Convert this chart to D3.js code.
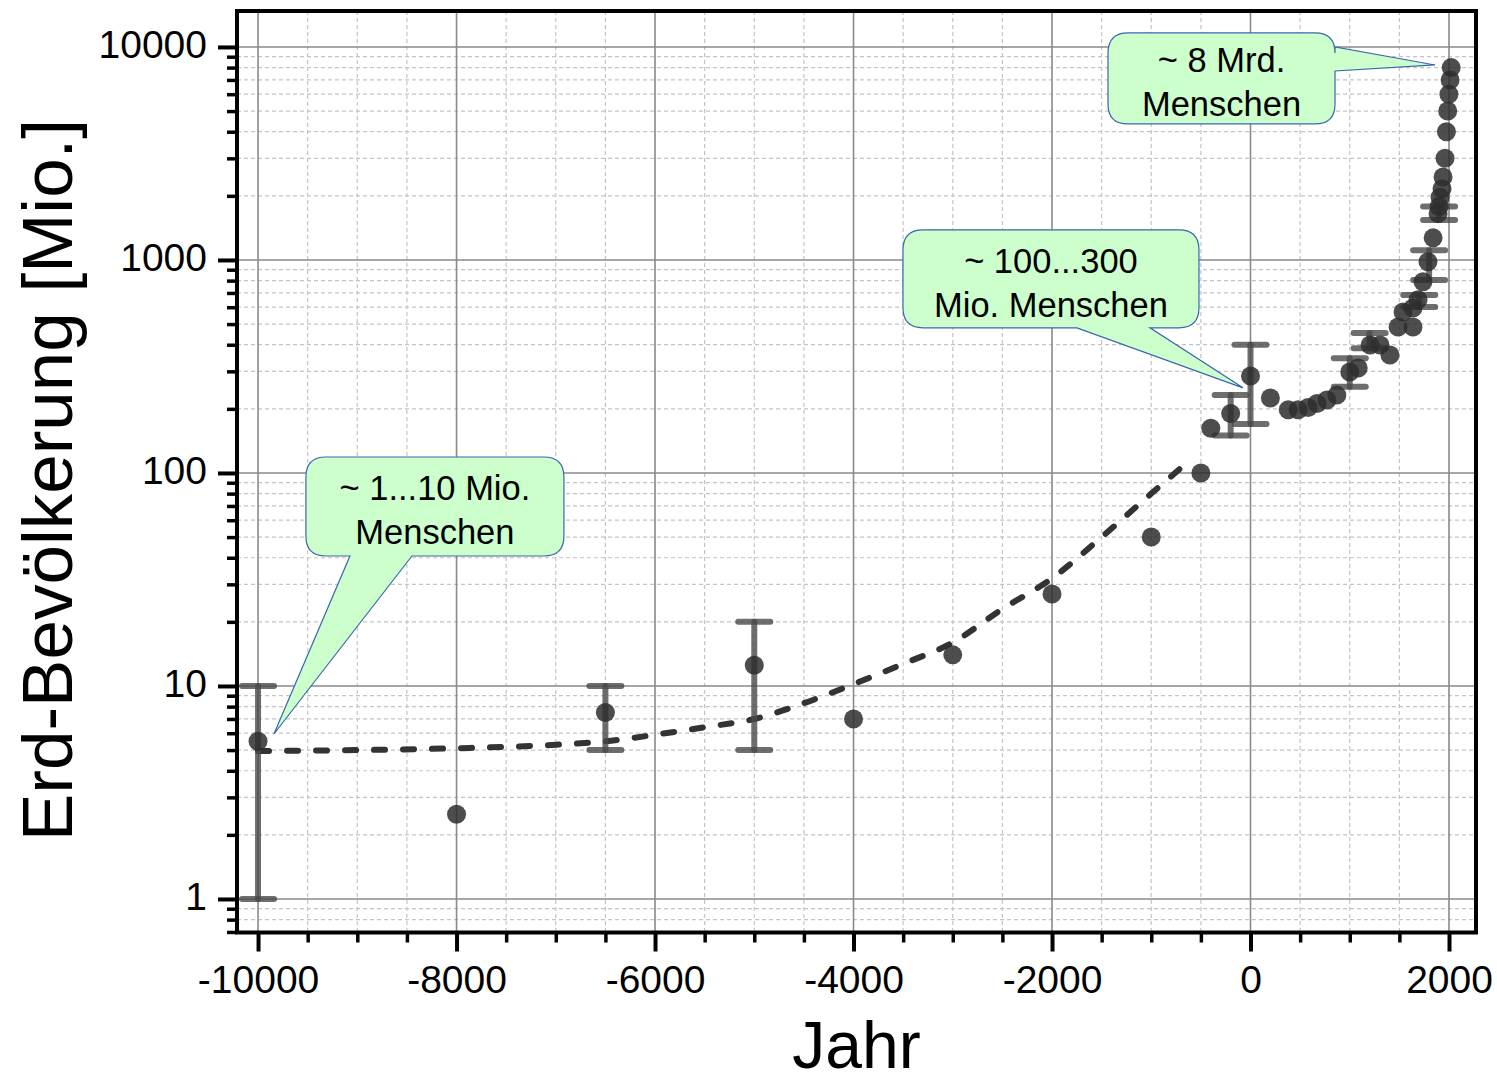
<!DOCTYPE html>
<html>
<head>
<meta charset="utf-8">
<script src="https://cdn.jsdelivr.net/npm/d3@7"></script>
<style>
  body { margin: 0; background: #fff; }
  text { font-family: "Liberation Sans", Arial, sans-serif; fill: #000; }
</style>
</head>
<body>
<div id="chart"></div>
<script>
// data (year, population in millions)
const years = [
  -10000, -8000, -6500, -5000, -4000, -3000, -2000, -1000, -500, -400, -200, 0,
  200, 380, 480, 580, 670, 770, 870, 1000, 1085, 1205, 1305, 1405, 1487, 1637,
  1537, 1637, 1688, 1738, 1788, 1840, 1890, 1900, 1910, 1930, 1940, 1960, 1974,
  1987, 1999, 2011, 2022
];
const population = [
  5.5, 2.5, 7.5, 12.5, 7, 14, 27, 50, 100, 162, 190, 285,
  225, 198, 198, 203, 212, 220, 232, 298, 311, 399, 399, 358, 484, 484,
  570, 595, 650, 790, 980, 1270, 1650, 1780, 1970, 2160, 2450, 3000, 4000,
  5000, 6000, 7000, 8000
];

// error bars
const errYears = [-10000, -6500, -5000, -200, 0, 1000, 1200, 1700, 1800, 1900];
const errLow = [1, 5, 5, 150, 170, 254, 385, 601, 806, 1540];
const errHigh = [10, 10, 20, 232, 400, 346, 454, 685, 1110, 1780];

// dashed trend curve
const trendYears = [-10000, -9000, -8000, -7000, -6500, -6000, -5500, -5000, -4500, -4000, -3500, -3000, -2500, -2000, -1500, -1000, -600];
const trendValues = [4.95, 5.0, 5.1, 5.3, 5.5, 5.9, 6.4, 7.0, 8.3, 10.2, 12.7, 16, 23, 32, 50, 80, 116];

const xTicks = [-10000, -8000, -6000, -4000, -2000, 0, 2000];
const yTicks = [1, 10, 100, 1000, 10000];

const calloutTexts = [
  ["~ 1...10 Mio.", "Menschen"],
  ["~ 100...300", "Mio. Menschen"],
  ["~ 8 Mrd.", "Menschen"]
];
const calloutYears = [-9840, -76, 1859];
const calloutValues = [5.95, 251, 8230];

// box placement relative to the tip, in pixels
const calloutLayout = [
  { dx: 32, dy: -277, w: 258, h: 99, side: "bottom", a: 44, b: 106 },
  { dx: -340, dy: -158, w: 296, h: 98, side: "bottom", a: 174, b: 247 },
  { dx: -327, dy: -32, w: 227, h: 91, side: "right", a: 14, b: 38 }
];

const width = 1497;
const height = 1082;
const plot = { left: 237, right: 1476, top: 11, bottom: 932.5 };

const x = d3.scaleLinear().domain([-10212, 2272]).range([plot.left, plot.right]);
const y = d3.scaleLog().domain([0.696, 14750]).range([plot.bottom, plot.top]);

const xMinor = d3.range(-10000, 2001, 500).filter((d) => !xTicks.includes(d));
const yMinor = [];
[-1, 0, 1, 2, 3].forEach((k) => {
  for (let m = 2; m <= 9; m++) {
    const v = m * Math.pow(10, k);
    if (v > 0.7 && v < 14750) yMinor.push(+v.toPrecision(3));
  }
});

const svg = d3
  .select("#chart")
  .append("svg")
  .attr("width", width)
  .attr("height", height);

// grid
const grid = svg.append("g");
grid
  .selectAll(".vminor")
  .data(xMinor)
  .join("line")
  .attr("x1", (d) => x(d))
  .attr("x2", (d) => x(d))
  .attr("y1", plot.top)
  .attr("y2", plot.bottom)
  .attr("stroke", "#c4c4c4")
  .attr("stroke-width", 1.2)
  .attr("stroke-dasharray", "4,3");
grid
  .selectAll(".hminor")
  .data(yMinor)
  .join("line")
  .attr("x1", plot.left)
  .attr("x2", plot.right)
  .attr("y1", (d) => y(d))
  .attr("y2", (d) => y(d))
  .attr("stroke", "#c4c4c4")
  .attr("stroke-width", 1.2)
  .attr("stroke-dasharray", "4,3");
grid
  .selectAll(".vmajor")
  .data(xTicks)
  .join("line")
  .attr("x1", (d) => x(d))
  .attr("x2", (d) => x(d))
  .attr("y1", plot.top)
  .attr("y2", plot.bottom)
  .attr("stroke", "#8a8a8a")
  .attr("stroke-width", 1.6);
grid
  .selectAll(".hmajor")
  .data(yTicks)
  .join("line")
  .attr("x1", plot.left)
  .attr("x2", plot.right)
  .attr("y1", (d) => y(d))
  .attr("y2", (d) => y(d))
  .attr("stroke", "#8a8a8a")
  .attr("stroke-width", 1.6);

// trend line
const trend = trendYears.map((t, i) => [t, trendValues[i]]);
svg
  .append("path")
  .datum(trend)
  .attr("fill", "none")
  .attr("stroke", "#333")
  .attr("stroke-width", 6)
  .attr("stroke-linecap", "round")
  .attr("stroke-dasharray", "11,18")
  .attr(
    "d",
    d3
      .line()
      .curve(d3.curveMonotoneX)
      .x((d) => x(d[0]))
      .y((d) => y(d[1]))
  );

// error bars
const errors = errYears.map((t, i) => ({ t, lo: errLow[i], hi: errHigh[i] }));
const eb = svg
  .append("g")
  .attr("stroke", "#4a4a4a")
  .attr("stroke-opacity", 0.8)
  .attr("stroke-width", 6)
  .attr("stroke-linecap", "round");
eb.selectAll(".stem")
  .data(errors)
  .join("line")
  .attr("x1", (d) => x(d.t))
  .attr("x2", (d) => x(d.t))
  .attr("y1", (d) => y(d.lo))
  .attr("y2", (d) => y(d.hi));
eb.selectAll(".cap")
  .data(errors.flatMap((d) => [{ t: d.t, v: d.lo }, { t: d.t, v: d.hi }]))
  .join("line")
  .attr("x1", (d) => x(d.t) - 16)
  .attr("x2", (d) => x(d.t) + 16)
  .attr("y1", (d) => y(d.v))
  .attr("y2", (d) => y(d.v));

// points
svg
  .append("g")
  .selectAll("circle")
  .data(years.map((t, i) => [t, population[i]]))
  .join("circle")
  .attr("cx", (d) => x(d[0]))
  .attr("cy", (d) => y(d[1]))
  .attr("r", 9.5)
  .attr("fill", "#2e2e2e")
  .attr("fill-opacity", 0.85);

// frame
svg
  .append("rect")
  .attr("x", plot.left)
  .attr("y", plot.top)
  .attr("width", plot.right - plot.left)
  .attr("height", plot.bottom - plot.top)
  .attr("fill", "none")
  .attr("stroke", "#000")
  .attr("stroke-width", 4);

// axes
const xAxis = svg
  .append("g")
  .attr("transform", `translate(0,${plot.bottom})`)
  .call(d3.axisBottom(x).tickValues(xTicks).tickSize(19).tickFormat((d) => String(d)));
xAxis.select(".domain").remove();
xAxis.selectAll("line").attr("stroke", "#000").attr("stroke-width", 4);
xAxis
  .selectAll("text")
  .attr("y", 60)
  .attr("dy", 0)
  .attr("font-size", 39)
  .attr("font-family", '"Liberation Sans", Arial, sans-serif');

const xAxisMinor = svg
  .append("g")
  .attr("transform", `translate(0,${plot.bottom})`)
  .call(d3.axisBottom(x).tickValues(xMinor).tickSize(10).tickFormat(""));
xAxisMinor.select(".domain").remove();
xAxisMinor.selectAll("line").attr("stroke", "#000").attr("stroke-width", 3.5);

const yAxis = svg
  .append("g")
  .attr("transform", `translate(${plot.left},0)`)
  .call(d3.axisLeft(y).tickValues(yTicks).tickSize(19).tickFormat((d) => String(d)));
yAxis.select(".domain").remove();
yAxis.selectAll("line").attr("stroke", "#000").attr("stroke-width", 4);
yAxis
  .selectAll("text")
  .attr("x", -30)
  .attr("dy", "0.27em")
  .attr("font-size", 39)
  .attr("font-family", '"Liberation Sans", Arial, sans-serif');

const yAxisMinor = svg
  .append("g")
  .attr("transform", `translate(${plot.left},0)`)
  .call(d3.axisLeft(y).tickValues(yMinor).tickSize(10).tickFormat(""));
yAxisMinor.select(".domain").remove();
yAxisMinor.selectAll("line").attr("stroke", "#000").attr("stroke-width", 3.5);

// axis titles
svg
  .append("text")
  .attr("transform", "translate(72,480) rotate(-90)")
  .attr("text-anchor", "middle")
  .attr("font-size", 71)
  .text("Erd-Bevölkerung [Mio.]");
svg
  .append("text")
  .attr("x", (plot.left + plot.right) / 2)
  .attr("y", 1068)
  .attr("text-anchor", "middle")
  .attr("font-size", 66)
  .text("Jahr");

// callouts
function calloutPath(bx, by, w, h, r, L, tx, ty) {
  const p = d3.path();
  p.moveTo(bx + r, by);
  p.lineTo(bx + w - r, by);
  p.quadraticCurveTo(bx + w, by, bx + w, by + r);
  if (L.side === "right") {
    p.lineTo(bx + w, by + L.a);
    p.lineTo(tx, ty);
    p.lineTo(bx + w, by + L.b);
  }
  p.lineTo(bx + w, by + h - r);
  p.quadraticCurveTo(bx + w, by + h, bx + w - r, by + h);
  if (L.side === "bottom") {
    p.lineTo(bx + L.b, by + h);
    p.lineTo(tx, ty);
    p.lineTo(bx + L.a, by + h);
  }
  p.lineTo(bx + r, by + h);
  p.quadraticCurveTo(bx, by + h, bx, by + h - r);
  p.lineTo(bx, by + r);
  p.quadraticCurveTo(bx, by, bx + r, by);
  p.closePath();
  return p.toString();
}

calloutTexts.forEach((lines, i) => {
  const L = calloutLayout[i];
  const tx = x(calloutYears[i]);
  const ty = y(calloutValues[i]);
  const bx = tx + L.dx;
  const by = ty + L.dy;
  const g = svg.append("g");
  g.append("path")
    .attr("d", calloutPath(bx, by, L.w, L.h, 20, L, tx, ty))
    .attr("fill", "#ccffcc")
    .attr("stroke", "#3a66b0")
    .attr("stroke-width", 1.2);
  g.selectAll("text")
    .data(lines)
    .join("text")
    .attr("x", bx + L.w / 2)
    .attr("y", (d, j) => by + L.h / 2 - 6 + j * 44)
    .attr("text-anchor", "middle")
    .attr("font-size", 34.5)
    .text((d) => d);
});
</script>
</body>
</html>
